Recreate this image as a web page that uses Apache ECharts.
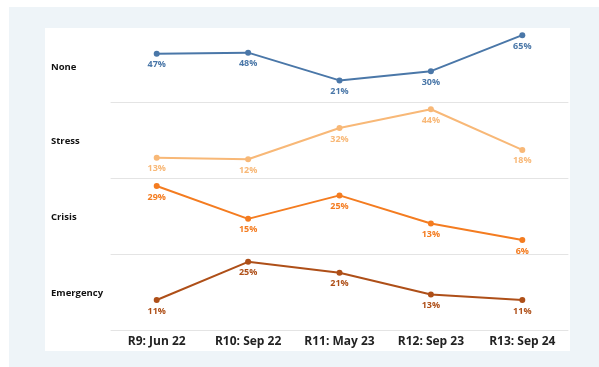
<!DOCTYPE html>
<html>
<head>
<meta charset="utf-8">
<script src="https://cdn.jsdelivr.net/npm/echarts@6/dist/echarts.min.js"></script>
<style>
html,body{margin:0;padding:0;background:#ffffff;}
#chart{width:599px;height:367px;}
</style>
</head>
<body>
<div id="chart"></div>
<script>
const categories = ['R9: Jun 22', 'R10: Sep 22', 'R11: May 23', 'R12: Sep 23', 'R13: Sep 24'];
const rowNames = ['None', 'Stress', 'Crisis', 'Emergency'];
const noneValues = [47, 48, 21, 30, 65];
const stressValues = [13, 12, 32, 44, 18];
const crisisValues = [29, 15, 25, 13, 6];
const emergencyValues = [11, 25, 21, 13, 11];
const rowMax = [70, 48, 32, 27.5];

const seriesValues = [noneValues, stressValues, crisisValues, emergencyValues];
const colors = ['#4a77a8', '#f8b877', '#f47c20', '#ae4f18'];
const bands = [[30, 102], [103, 178], [179, 254], [255, 330]];
const W = 599, H = 367;
const gridLeft = 111, gridRight = W - 568;
const font = '"Open Sans", "DejaVu Sans", sans-serif';

const chart = echarts.init(document.getElementById('chart'), null, {renderer: 'canvas'});

const grids = [], xAxes = [], yAxes = [], series = [], graphics = [];

graphics.push({type: 'rect', z: -10, shape: {x: 9, y: 7, width: W - 9, height: H - 7}, style: {fill: '#eef4f8'}});
graphics.push({type: 'rect', z: -9, shape: {x: 45, y: 28, width: 525, height: 323}, style: {fill: '#ffffff'}});

bands.forEach((b, i) => {
  grids.push({left: gridLeft, right: gridRight, top: b[0], height: b[1] - b[0], containLabel: false});
  const last = i === bands.length - 1;
  xAxes.push({
    type: 'category', gridIndex: i, data: categories, boundaryGap: true,
    axisLine: {show: true, lineStyle: {color: '#e4e4e4', width: 1}},
    axisTick: {show: false},
    axisLabel: last ? {show: true, interval: 0, hideOverlap: false, margin: 6, color: '#222', fontWeight: 'bold', fontSize: 12, fontFamily: font} : {show: false},
    splitLine: {show: false}
  });
  yAxes.push({
    type: 'value', gridIndex: i, min: 0, max: rowMax[i],
    axisLine: {show: false}, axisTick: {show: false}, axisLabel: {show: false}, splitLine: {show: false}
  });
  series.push({
    type: 'line', name: rowNames[i], xAxisIndex: i, yAxisIndex: i,
    data: seriesValues[i],
    symbol: 'circle', symbolSize: 6,
    lineStyle: {color: colors[i], width: 2},
    itemStyle: {color: colors[i]},
    label: {show: true, position: 'bottom', distance: 3.5, color: colors[i], fontSize: 9, fontWeight: 'bold', fontFamily: font, formatter: p => p.value + '%'},
    emphasis: {disabled: true},
    animation: false
  });
  graphics.push({
    type: 'text', left: 51, top: (b[0] + b[1]) / 2 - 4,
    style: {text: rowNames[i], fill: '#111', font: 'bold 9.5px ' + font}
  });
});

chart.setOption({
  backgroundColor: '#ffffff',
  animation: false,
  grid: grids,
  xAxis: xAxes,
  yAxis: yAxes,
  series: series,
  graphic: graphics
});
</script>
</body>
</html>
